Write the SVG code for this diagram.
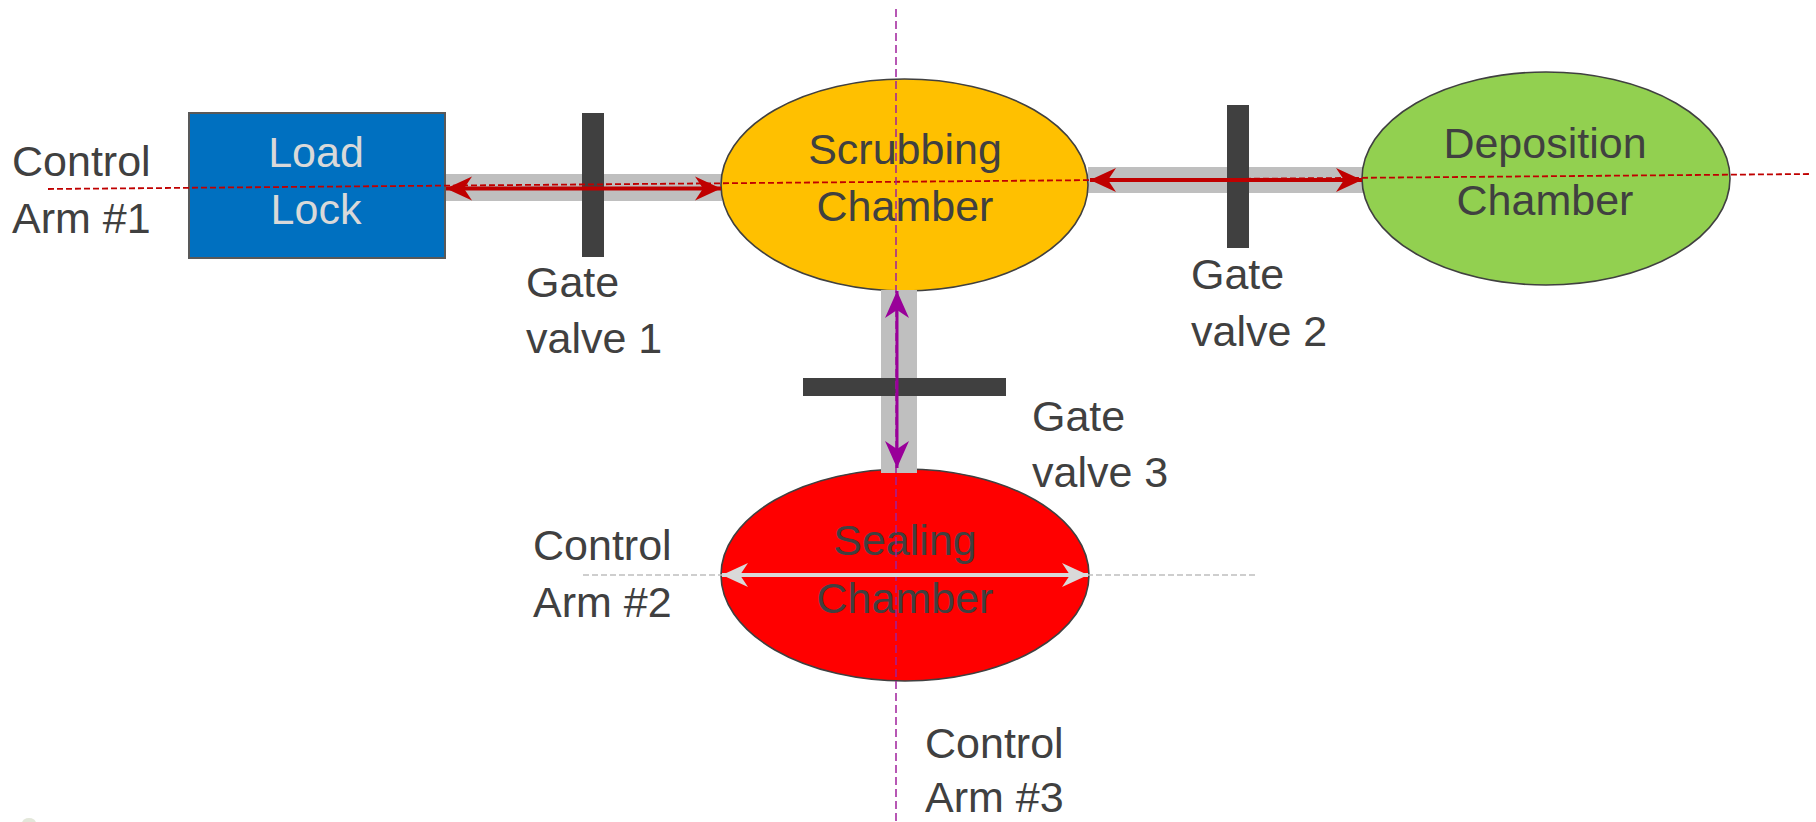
<svg xmlns="http://www.w3.org/2000/svg" width="1816" height="822" viewBox="0 0 1816 822">
<style>
.lbl{font-family:"Liberation Sans",Arial,sans-serif;font-size:43px;fill:#404040}
.nl{font-family:"Liberation Sans",Arial,sans-serif;font-size:43px;fill:#404040;text-anchor:middle}
.tube{fill:#BFBFBF}
.valve{fill:#404040}
.ch{stroke:#404040;stroke-width:1.6}
</style>
<defs>
<marker id="aRed" markerUnits="userSpaceOnUse" markerWidth="30" markerHeight="30" viewBox="-28 -14 30 28" refX="0" refY="0" orient="auto-start-reverse">
<path d="M0,0 L-26,-12 L-18,0 L-26,12 Z" fill="#C00000"/>
</marker>
<marker id="aMag" markerUnits="userSpaceOnUse" markerWidth="30" markerHeight="30" viewBox="-28 -14 30 28" refX="0" refY="0" orient="auto-start-reverse">
<path d="M0,0 L-27,-12 L-19,0 L-27,12 Z" fill="#990099"/>
</marker>
<marker id="aGry" markerUnits="userSpaceOnUse" markerWidth="30" markerHeight="30" viewBox="-28 -14 30 28" refX="0" refY="0" orient="auto-start-reverse">
<path d="M0,0 L-26,-12 L-18,0 L-26,12 Z" fill="#D9D9D9"/>
</marker>
</defs>
<rect width="1816" height="822" fill="#FFFFFF"/>
<ellipse cx="29" cy="823" rx="7" ry="5" fill="#E3E7DA"/>

<g id="tubes">
<rect class="tube" x="445" y="174" width="277" height="27"/>
<rect class="tube" x="1088" y="167" width="277" height="26"/>
</g>

<g id="load-lock">
<rect x="189" y="113" width="256" height="145" fill="#0070C0" stroke="#595959" stroke-width="2"/>
<text class="nl" x="316" y="167" style="fill:#D9D9D9">Load</text>
<text class="nl" x="316" y="224" style="fill:#D9D9D9">Lock</text>
</g>

<g id="scrubbing-chamber">
<ellipse class="ch" cx="904.5" cy="185" rx="183.5" ry="106" fill="#FFC000"/>
<text class="nl" x="905" y="164">Scrubbing</text>
<text class="nl" x="905" y="221">Chamber</text>
</g>

<g id="deposition-chamber">
<ellipse class="ch" cx="1546" cy="178.5" rx="184" ry="106.5" fill="#92D050"/>
<text class="nl" x="1545" y="158">Deposition</text>
<text class="nl" x="1545" y="215">Chamber</text>
</g>

<g id="tube-3">
<rect class="tube" x="881" y="290" width="36" height="183"/>
</g>

<g id="sealing-chamber">
<ellipse class="ch" cx="905" cy="575" rx="184" ry="106" fill="#FF0000"/>
<text class="nl" x="905" y="555">Sealing</text>
<text class="nl" x="905" y="613">Chamber</text>
</g>
<rect class="tube" x="881" y="455" width="36" height="18"/>

<g id="gate-valve-1">
<rect class="valve" x="582" y="113" width="22" height="144"/>
<text class="lbl" x="526" y="297">Gate</text>
<text class="lbl" x="526" y="353">valve 1</text>
</g>
<g id="gate-valve-2">
<rect class="valve" x="1227" y="105" width="22" height="143"/>
<text class="lbl" x="1191" y="289">Gate</text>
<text class="lbl" x="1191" y="346">valve 2</text>
</g>
<g id="gate-valve-3">
<rect class="valve" x="803" y="378" width="203" height="18"/>
<text class="lbl" x="1032" y="431">Gate</text>
<text class="lbl" x="1032" y="487">valve 3</text>
</g>

<g id="connectors">
<line x1="48" y1="189" x2="1810" y2="174" stroke="#C00000" stroke-width="1.8" stroke-dasharray="6,3"/>
<line x1="896" y1="9" x2="896" y2="822" stroke="#A0209C" stroke-width="1.5" stroke-dasharray="8,4"/>
<line x1="583" y1="575" x2="1258" y2="575" stroke="#BFBFBF" stroke-width="1.5" stroke-dasharray="6,3"/>
<line x1="446" y1="188.5" x2="721" y2="188.5" stroke="#C00000" stroke-width="4" marker-start="url(#aRed)" marker-end="url(#aRed)"/>
<line x1="1090" y1="180" x2="1362" y2="180" stroke="#C00000" stroke-width="4" marker-start="url(#aRed)" marker-end="url(#aRed)"/>
<line x1="897" y1="291" x2="897" y2="468" stroke="#990099" stroke-width="3" marker-start="url(#aMag)" marker-end="url(#aMag)"/>
<line x1="722" y1="575" x2="1088" y2="575" stroke="#D9D9D9" stroke-width="4" marker-start="url(#aGry)" marker-end="url(#aGry)"/>
</g>

<g id="control-arm-labels">
<text class="lbl" x="12" y="176">Control</text>
<text class="lbl" x="12" y="233">Arm #1</text>
<text class="lbl" x="533" y="560">Control</text>
<text class="lbl" x="533" y="617">Arm #2</text>
<text class="lbl" x="925" y="758">Control</text>
<text class="lbl" x="925" y="812">Arm #3</text>
</g>
</svg>
